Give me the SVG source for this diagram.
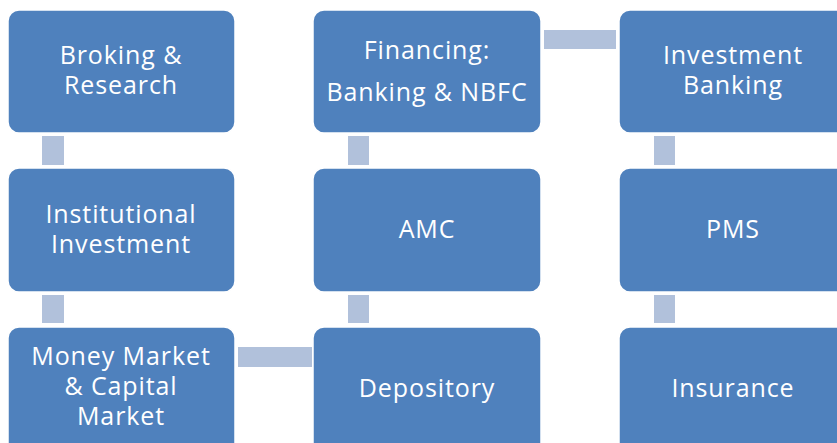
<svg xmlns="http://www.w3.org/2000/svg" width="837" height="443" viewBox="0 0 837 443">
<style>
.box{fill:#4F81BD;stroke:#FFFFFF;stroke-width:1.5}
.lbl{fill:#FFFFFF;font-family:"Open Sans","Liberation Sans",sans-serif;font-size:25px;letter-spacing:0.9px;text-anchor:middle}
.con{fill:#B1C1DB}
</style>
<rect width="837" height="443" fill="#FFFFFF"/>
<g id="connectors">
<rect class="con" x="42" y="136" width="22" height="29"/>
<rect class="con" x="42" y="295" width="22" height="28"/>
<rect class="con" x="348" y="136" width="21" height="29"/>
<rect class="con" x="348" y="295" width="21" height="28"/>
<rect class="con" x="654" y="136" width="21" height="29"/>
<rect class="con" x="654" y="295" width="21" height="28"/>
<rect class="con" x="544" y="30" width="72" height="19"/>
<rect class="con" x="238" y="347" width="74" height="20"/>
</g>
<g id="broking">
<rect class="box" x="8" y="10" width="227" height="123" rx="11"/>
<text class="lbl" x="121" y="64">Broking &amp;</text>
<text class="lbl" x="121" y="94">Research</text>
</g>
<g id="financing">
<rect class="box" x="313" y="10" width="228" height="123" rx="11"/>
<text class="lbl" x="427" y="59">Financing:</text>
<text class="lbl" x="427" y="101">Banking &amp; NBFC</text>
</g>
<g id="investment-banking">
<rect class="box" x="619" y="10" width="228" height="123" rx="11"/>
<text class="lbl" x="733" y="64">Investment</text>
<text class="lbl" x="733" y="94">Banking</text>
</g>
<g id="institutional">
<rect class="box" x="8" y="168" width="227" height="124" rx="11"/>
<text class="lbl" x="121" y="223">Institutional</text>
<text class="lbl" x="121" y="253">Investment</text>
</g>
<g id="amc">
<rect class="box" x="313" y="168" width="228" height="124" rx="11"/>
<text class="lbl" x="427" y="238">AMC</text>
</g>
<g id="pms">
<rect class="box" x="619" y="168" width="228" height="124" rx="11"/>
<text class="lbl" x="733" y="238">PMS</text>
</g>
<g id="money-market">
<rect class="box" x="8" y="327" width="227" height="130" rx="11"/>
<text class="lbl" x="121" y="365">Money Market</text>
<text class="lbl" x="121" y="395">&amp; Capital</text>
<text class="lbl" x="121" y="425">Market</text>
</g>
<g id="depository">
<rect class="box" x="313" y="327" width="228" height="130" rx="11"/>
<text class="lbl" x="427" y="397">Depository</text>
</g>
<g id="insurance">
<rect class="box" x="619" y="327" width="228" height="130" rx="11"/>
<text class="lbl" x="733" y="397">Insurance</text>
</g>
</svg>
